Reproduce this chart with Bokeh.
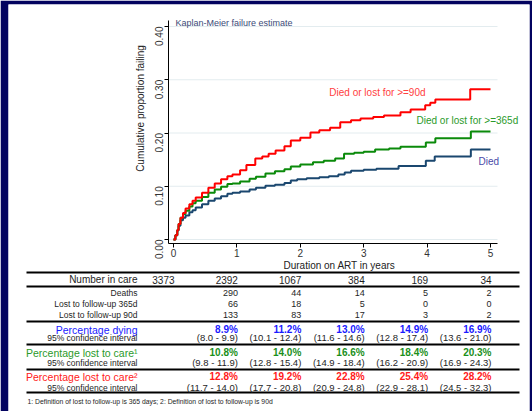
import math
from bokeh.plotting import figure
from bokeh.models import Range1d, FixedTicker, PrintfTickFormatter, Label, ColumnDataSource, LinearAxis
from bokeh.embed import file_html
from bokeh.resources import INLINE
from bokeh.core.properties import value

# ---------------- data ----------------
t_died = [0, 0.03, 0.06, 0.08, 0.11, 0.15, 0.19, 0.25, 0.30, 0.35, 0.45, 0.55, 0.65, 0.75, 0.85,
          0.93, 1.05, 1.20, 1.30, 1.45, 1.60, 1.75, 1.85, 1.95, 2.10, 2.30, 2.45, 2.60, 2.70, 2.80,
          3.00, 3.20, 3.55, 3.98, 4.12, 4.69, 5.0]
v_died = [0, 0.008, 0.017, 0.026, 0.036, 0.041, 0.045, 0.051, 0.055, 0.060, 0.066, 0.073, 0.077,
          0.081, 0.086, 0.088, 0.090, 0.094, 0.097, 0.101, 0.103, 0.106, 0.111, 0.113, 0.115, 0.117,
          0.119, 0.122, 0.126, 0.129, 0.131, 0.133, 0.138, 0.148, 0.156, 0.169, 0.169]

t_lost365 = [0, 0.03, 0.06, 0.08, 0.11, 0.15, 0.19, 0.25, 0.30, 0.35, 0.45, 0.55, 0.65, 0.75, 0.85,
             0.93, 1.05, 1.20, 1.30, 1.45, 1.60, 1.75, 1.85, 2.00, 2.20, 2.37, 2.55, 2.69, 2.85,
             3.00, 3.18, 3.40, 3.58, 3.98, 4.13, 4.69, 5.0]
v_lost365 = [0, 0.008, 0.018, 0.029, 0.041, 0.048, 0.054, 0.062, 0.068, 0.073, 0.080, 0.088, 0.094,
             0.099, 0.104, 0.105, 0.109, 0.114, 0.118, 0.124, 0.128, 0.132, 0.137, 0.141, 0.145,
             0.148, 0.152, 0.161, 0.163, 0.165, 0.169, 0.171, 0.174, 0.182, 0.190, 0.203, 0.203]

t_lost90 = [0, 0.03, 0.06, 0.08, 0.11, 0.15, 0.19, 0.25, 0.30, 0.35, 0.45, 0.55, 0.65, 0.75, 0.85,
            0.93, 1.05, 1.15, 1.29, 1.40, 1.50, 1.61, 1.75, 1.85, 2.00, 2.16, 2.30, 2.47, 2.63, 2.80,
            2.95, 3.15, 3.32, 3.58, 3.74, 3.97, 4.05, 4.13, 4.68, 5.0]
v_lost90 = [0, 0.008, 0.018, 0.029, 0.041, 0.050, 0.058, 0.066, 0.073, 0.079, 0.088, 0.097, 0.105,
            0.113, 0.119, 0.122, 0.130, 0.140, 0.152, 0.156, 0.161, 0.167, 0.175, 0.186, 0.191,
            0.201, 0.205, 0.210, 0.220, 0.224, 0.227, 0.230, 0.233, 0.239, 0.244, 0.252, 0.257,
            0.263, 0.282, 0.282]

x_ticks = [0, 1, 2, 3, 4, 5]
y_ticks = [0.0, 0.1, 0.2, 0.3, 0.4]

series_labels = ["Died", "Died or lost for >=365d", "Died or lost for >=90d"]

table_years = [0, 1, 2, 3, 4, 5]
number_in_care = [3373, 2392, 1067, 384, 169, 34]
count_years = [1, 2, 3, 4, 5]
deaths = [290, 44, 14, 5, 2]
lost_365 = [66, 18, 5, 0, 0]
lost_90 = [133, 83, 17, 3, 2]
pct_dying = [8.9, 11.2, 13.0, 14.9, 16.9]
ci_dying = [(8.0, 9.9), (10.1, 12.4), (11.6, 14.6), (12.8, 17.4), (13.6, 21.0)]
pct_lost365 = [10.8, 14.0, 16.6, 18.4, 20.3]
ci_lost365 = [(9.8, 11.9), (12.8, 15.4), (14.9, 18.4), (16.2, 20.9), (16.9, 24.3)]
pct_lost90 = [12.8, 19.2, 22.8, 25.4, 28.2]
ci_lost90 = [(11.7, 14.0), (17.7, 20.8), (20.9, 24.8), (22.9, 28.1), (24.5, 32.3)]

# ---------------- style ----------------
FONT = "Liberation Sans"
NAVY = "#03035f"
C_DIED = "#1a476f"
C_365 = "#0a8a0a"
C_90 = "#ff0000"
TXT = "#1e1e1e"

# pixel -> data helpers (layout positions only)
X0, PXY = 173.0, 63.4
Y0, PXV = 239.0, 532.5
def t_of(px):
    return (px - X0) / PXY
def v_of(py):
    return (Y0 - py) / PXV

p = figure(width=532, height=411, output_backend="svg", toolbar_location=None,
           x_range=Range1d(t_of(8), t_of(529)), y_range=Range1d(v_of(411), v_of(4)),
           x_axis_location=None, y_axis_location=None,
           min_border_left=8, min_border_right=3, min_border_top=4, min_border_bottom=0)
p.outline_line_color = None
p.background_fill_color = "white"
p.border_fill_color = NAVY
p.grid.visible = False

# axes at fixed positions
yax = LinearAxis(fixed_location=t_of(168), bounds=(v_of(243), v_of(20)),
                 ticker=FixedTicker(ticks=y_ticks), formatter=PrintfTickFormatter(format="%.2f"))
xax = LinearAxis(fixed_location=v_of(243), bounds=(t_of(168), t_of(497)),
                 ticker=FixedTicker(ticks=x_ticks))
for ax in (xax, yax):
    ax.axis_line_color = "black"
    ax.axis_line_width = 1
    ax.major_tick_line_color = "black"
    ax.major_tick_out = 4
    ax.major_tick_in = 0
    ax.minor_tick_out = 0
    ax.minor_tick_in = 0
    ax.major_label_text_font = FONT
    ax.major_label_text_font_size = "10px"
    ax.major_label_text_color = "#333333"
yax.major_label_orientation = math.pi / 2
yax.major_label_standoff = 6
xax.major_label_standoff = 1
p.add_layout(yax, "left")
p.add_layout(xax, "below")

# grid lines
p.segment(x0=[t_of(168)] * len(y_ticks), x1=[t_of(497)] * len(y_ticks), y0=y_ticks, y1=y_ticks,
          line_color="#e3ecef", line_width=1)

p.step(x=t_died, y=v_died, mode="after", line_width=2, line_color=C_DIED)
p.step(x=t_lost365, y=v_lost365, mode="after", line_width=2, line_color=C_365)
p.step(x=t_lost90, y=v_lost90, mode="after", line_width=2, line_color=C_90)

def lab(x, y, text, size, color, align, angle=0.0):
    p.add_layout(Label(x=x, y=y, text=text, text_font=FONT, text_font_size=size,
                       text_color=color, text_baseline="middle", text_align=align, angle=angle))

lab(t_of(175), v_of(22), "Kaplan-Meier failure estimate", "9px", "#3c4a78", "left")
lab(t_of(425), v_of(92), series_labels[2], "10px", "#ff4040", "right")
lab(t_of(416), v_of(120), series_labels[1], "10px", "#2a9a2a", "left")
lab(t_of(478), v_of(161), series_labels[0], "10px", "#4a4aa8", "left")
lab(t_of(140), v_of(108), "Cumulative proportion failing", "10px", "#222222", "center", math.pi / 2)
lab(t_of(339), v_of(265), "Duration on ART in years", "10px", "#222222", "center")

# ---------------- table ----------------
def add_text(xs, rows, texts, size, color, align, bold=False):
    src = ColumnDataSource(dict(x=xs, y=[v_of(r) for r in rows], text=texts))
    p.text(x="x", y="y", text="text", source=src, text_font=value(FONT),
           text_font_size=value(size), text_color=color, text_align=align,
           text_baseline="middle", text_font_style="bold" if bold else "normal")

LAB_X = t_of(137)
OFF = 1.0 / PXY
rule_rows = [272, 286, 321, 344, 369, 392]
p.segment(x0=[t_of(26)] * len(rule_rows), x1=[t_of(519)] * len(rule_rows),
          y0=[v_of(r) for r in rule_rows], y1=[v_of(r) for r in rule_rows],
          line_color="black", line_width=2)

add_text([LAB_X], [279], ["Number in care"], "10px", TXT, "right")
add_text([LAB_X] * 3, [292, 303, 314], ["Deaths", "Lost to follow-up 365d", "Lost to follow-up 90d"],
         "8.5px", TXT, "right")
add_text([LAB_X], [329], ["Percentage dying"], "10.5px", "#1a1aff", "right")
add_text([LAB_X], [352], ["Percentage lost to care\u00b9"], "10.5px", "#2a9a2a", "right")
add_text([LAB_X], [376], ["Percentage lost to care\u00b2"], "10.5px", "#ff2020", "right")
add_text([LAB_X] * 3, [337, 362, 387], ["95% confidence interval"] * 3, "8.5px", TXT, "right")

add_text([y + OFF for y in table_years], [279] * len(table_years),
         [str(n) for n in number_in_care], "10px", TXT, "right")
cx = [y + OFF for y in count_years]
add_text(cx, [292] * 5, [str(n) for n in deaths], "9px", TXT, "right")
add_text(cx, [303] * 5, [str(n) for n in lost_365], "9px", TXT, "right")
add_text(cx, [314] * 5, [str(n) for n in lost_90], "9px", TXT, "right")

def pct(vals):
    return [f"{v:.1f}%" for v in vals]
def ci(vals):
    return [f"({lo:.1f} - {hi:.1f})" for lo, hi in vals]

add_text(cx, [329] * 5, pct(pct_dying), "10px", "#1a1aff", "right", bold=True)
add_text(cx, [337] * 5, ci(ci_dying), "9.5px", TXT, "right")
add_text(cx, [352] * 5, pct(pct_lost365), "10px", "#1a8f1a", "right", bold=True)
add_text(cx, [362] * 5, ci(ci_lost365), "9.5px", TXT, "right")
add_text(cx, [376] * 5, pct(pct_lost90), "10px", "#ff1a1a", "right", bold=True)
add_text(cx, [387] * 5, ci(ci_lost90), "9.5px", TXT, "right")

add_text([t_of(27)], [401],
         ["1: Definition of lost to follow-up is 365 days; 2: Definition of lost to follow-up is 90d"],
         "6.8px", TXT, "left")

open("out.html", "w").write(file_html(p, INLINE))
